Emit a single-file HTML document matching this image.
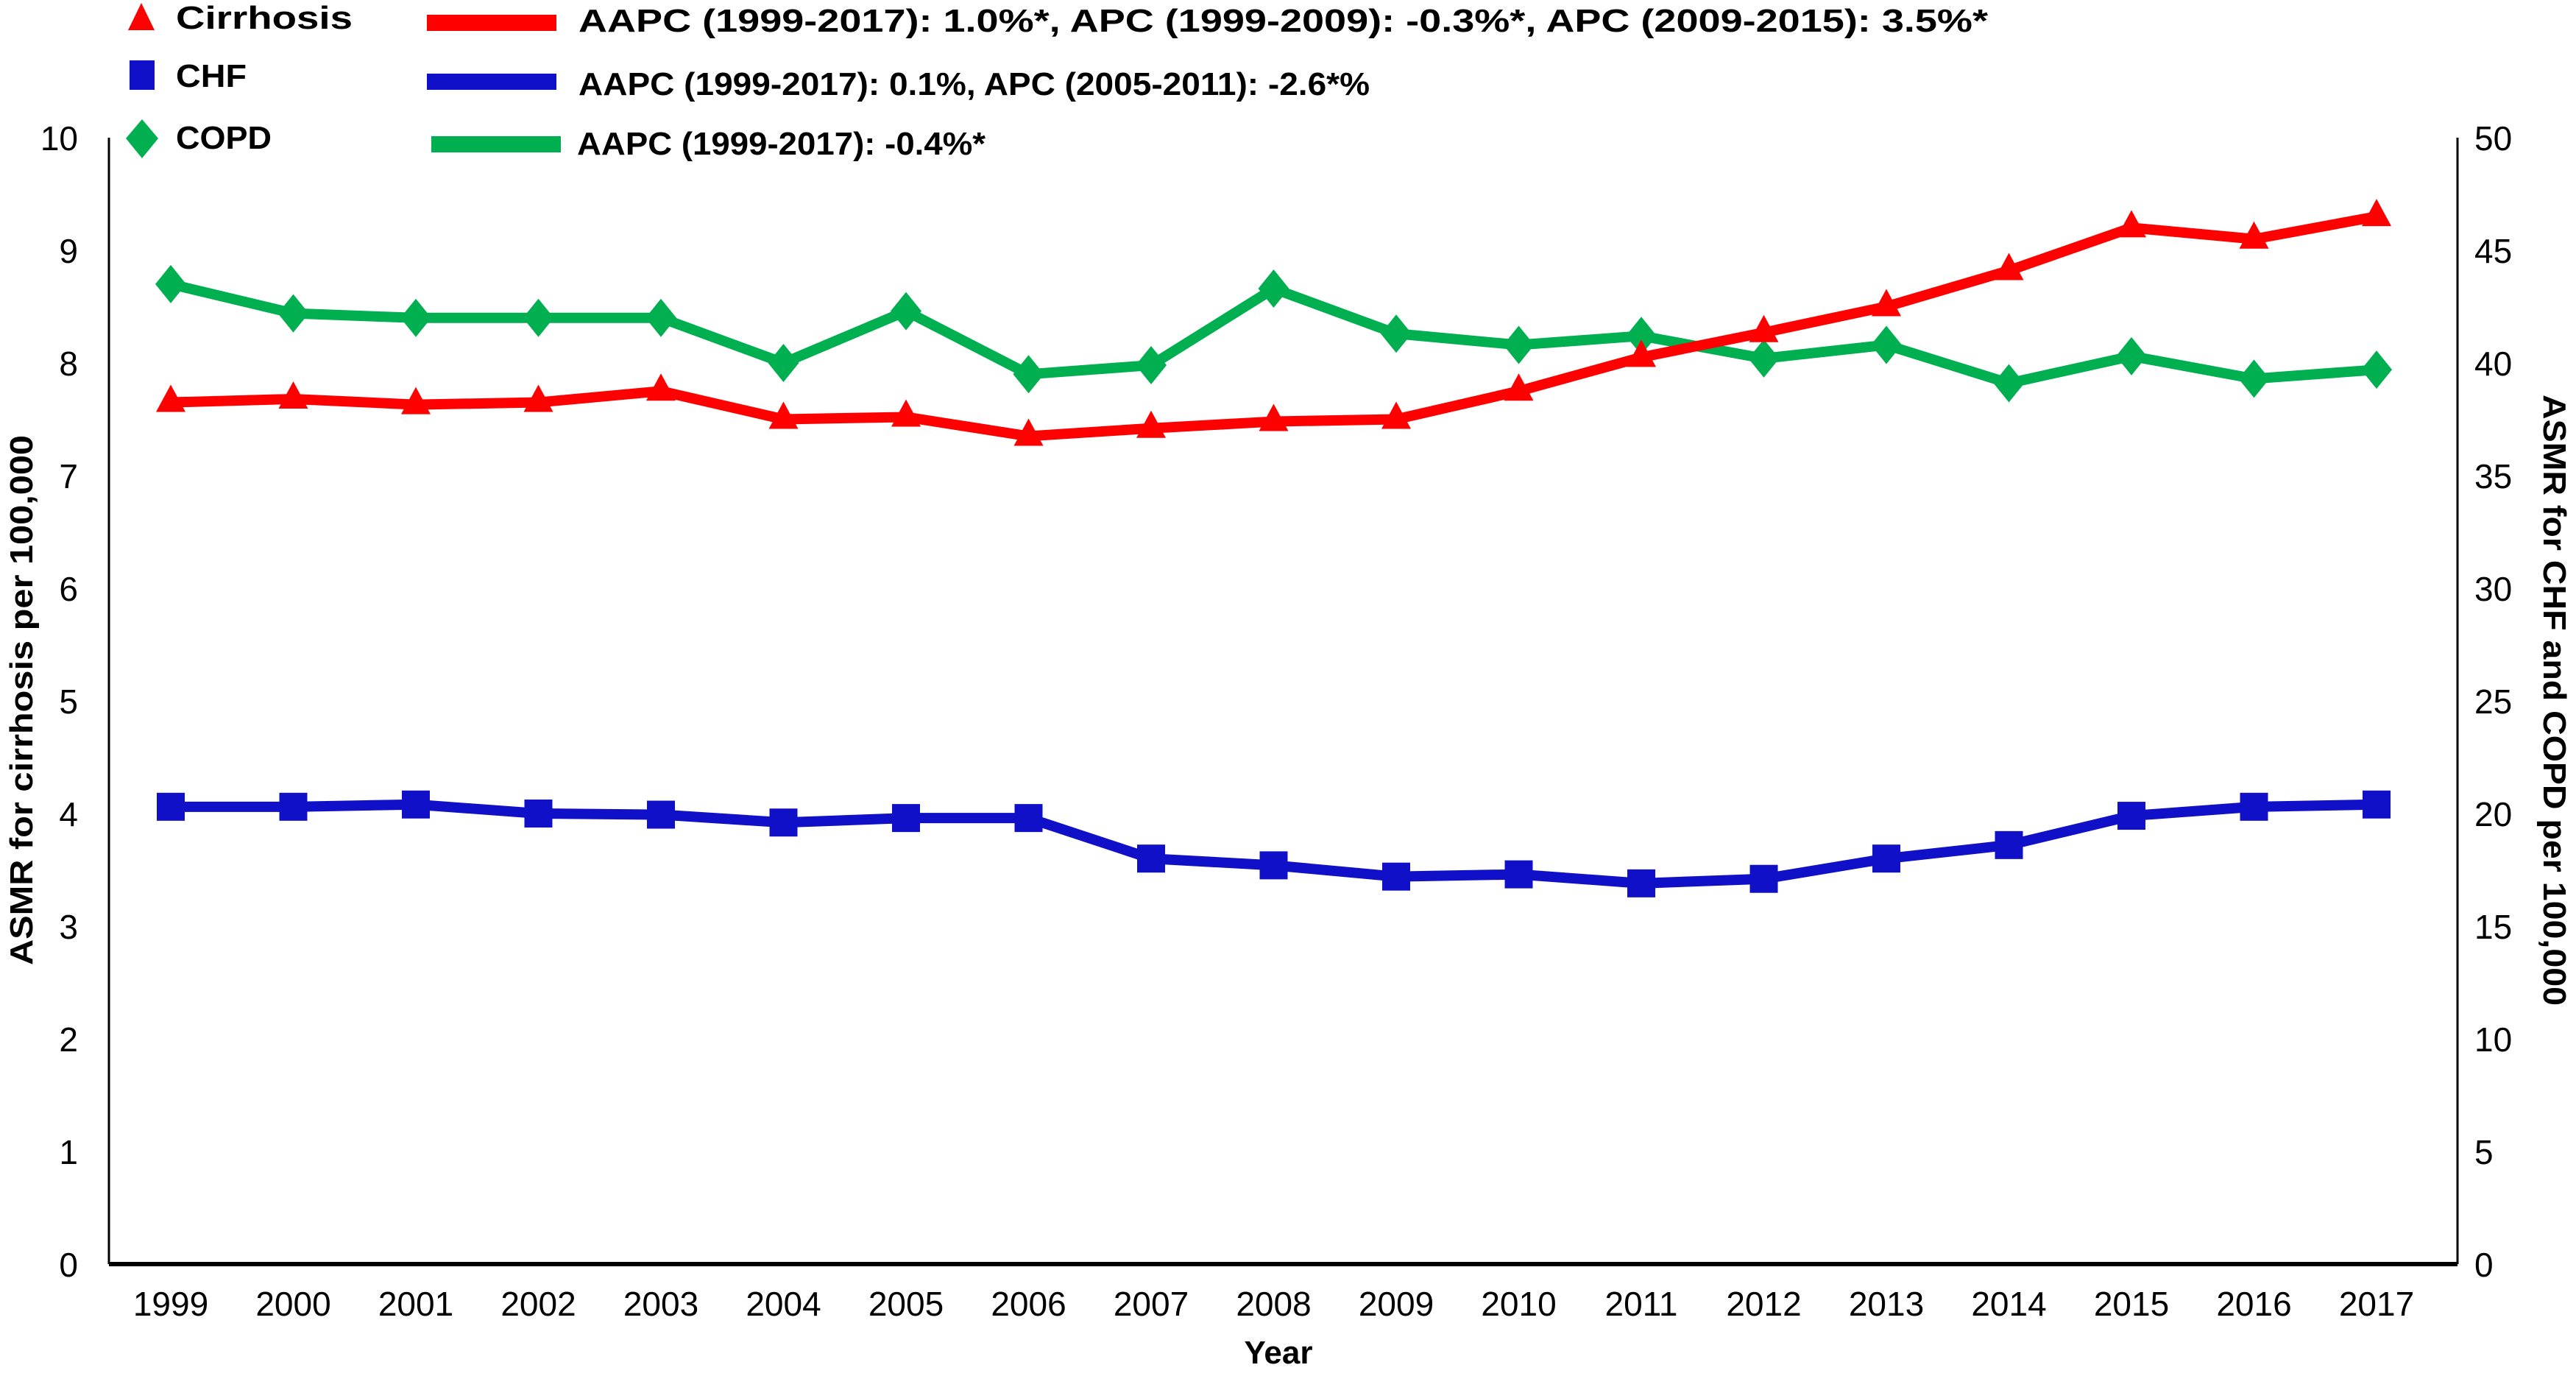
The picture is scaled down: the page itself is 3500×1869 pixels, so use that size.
<!DOCTYPE html>
<html><head><meta charset="utf-8"><style>
html,body{margin:0;padding:0;background:#fff}
svg{display:block;font-family:"Liberation Sans",Arial,sans-serif}
</style></head><body>
<svg id="chart" width="3500" height="1869" viewBox="0 0 3500 1869" xmlns="http://www.w3.org/2000/svg">
<g id="axes"></g>
<g id="series"></g>
<g id="legend">
  <polygon points="192,4 210,41 174,41" fill="#ff0000"/>
  <text x="239" y="39" font-size="44" font-weight="bold" textLength="240" lengthAdjust="spacingAndGlyphs">Cirrhosis</text>
  <rect x="176" y="82" width="34" height="40" fill="#1010c8"/>
  <text x="239" y="118" font-size="44" font-weight="bold" textLength="96" lengthAdjust="spacingAndGlyphs">CHF</text>
  <polygon points="193,162 215,188 193,215 171,188" fill="#00b050"/>
  <text x="239" y="202" font-size="44" font-weight="bold" textLength="130" lengthAdjust="spacingAndGlyphs">COPD</text>
  <rect x="580" y="20" width="176" height="22" fill="#ff0000"/>
  <text x="786" y="43" font-size="44" font-weight="bold" textLength="1915" lengthAdjust="spacingAndGlyphs">AAPC (1999-2017): 1.0%*, APC (1999-2009): -0.3%*, APC (2009-2015): 3.5%*</text>
  <rect x="580" y="100" width="176" height="22" fill="#1010c8"/>
  <text x="786" y="129" font-size="44" font-weight="bold" textLength="1075" lengthAdjust="spacingAndGlyphs">AAPC (1999-2017): 0.1%, APC (2005-2011): -2.6*%</text>
  <rect x="586" y="185" width="176" height="22" fill="#00b050"/>
  <text x="784" y="210" font-size="44" font-weight="bold" textLength="555" lengthAdjust="spacingAndGlyphs">AAPC (1999-2017): -0.4%*</text>
</g>
<text transform="translate(44,951) rotate(-90)" text-anchor="middle" font-size="44" font-weight="bold" textLength="720" lengthAdjust="spacingAndGlyphs">ASMR for cirrhosis per 100,000</text>
<text transform="translate(3456,951) rotate(90)" text-anchor="middle" font-size="44" font-weight="bold" textLength="830" lengthAdjust="spacingAndGlyphs">ASMR for CHF and COPD per 100,000</text>
<text x="1737" y="1852" text-anchor="middle" font-size="44" font-weight="bold">Year</text>
</svg>
<script>
const years = [1999,2000,2001,2002,2003,2004,2005,2006,2007,2008,2009,2010,2011,2012,2013,2014,2015,2016,2017];
const cirrhosis = [7.65,7.68,7.63,7.65,7.75,7.5,7.52,7.35,7.42,7.48,7.5,7.75,8.05,8.27,8.5,8.82,9.2,9.1,9.3];
const chf = [20.3,20.3,20.4,20.0,19.95,19.6,19.8,19.8,18.0,17.7,17.2,17.3,16.9,17.1,18.0,18.6,19.9,20.3,20.4];
const copd = [43.5,42.2,42.0,42.0,42.0,40.0,42.3,39.5,39.9,43.3,41.3,40.8,41.2,40.2,40.8,39.1,40.3,39.3,39.7];
const leftTicks = [0,1,2,3,4,5,6,7,8,9,10];
const rightTicks = [0,5,10,15,20,25,30,35,40,45,50];

const NS = "http://www.w3.org/2000/svg";
const X0 = 148, X1 = 3339, YT = 187, YB = 1717;
const x = i => 232 + i * (3229 - 232) / (years.length - 1);
const yL = v => YB - v / 10 * (YB - YT);
const yR = v => YB - v / 50 * (YB - YT);
function mk(tag, attrs, parent){const e=document.createElementNS(NS,tag);for(const k in attrs)e.setAttribute(k,attrs[k]);parent.appendChild(e);return e;}
const axes = document.getElementById('axes'), series = document.getElementById('series');

let a = mk('line',{x1:X0,y1:YT,x2:X0,y2:YB,stroke:'#000','stroke-width':3},axes);
 
a = mk('line',{x1:X1,y1:YT,x2:X1,y2:YB,stroke:'#000','stroke-width':3},axes);
 
a = mk('line',{x1:X0,y1:YB,x2:X1,y2:YB,stroke:'#000','stroke-width':6},axes);
 

leftTicks.forEach(v=>{const t=mk('text',{x:106,y:yL(v)+17,'text-anchor':'end','font-size':46},axes);t.textContent=v;
 });
rightTicks.forEach(v=>{const t=mk('text',{x:3362,y:yR(v)+17,'text-anchor':'start','font-size':46},axes);t.textContent=v;
 });
years.forEach((yr,i)=>{const t=mk('text',{x:x(i),y:1787,'text-anchor':'middle','font-size':46},axes);t.textContent=yr;
 });

function drawSeries(vals, yf, color, name, shape){
  const pts = vals.map((v,i)=>x(i)+','+yf(v)).join(' ');
  const l = mk('polyline',{points:pts,fill:'none',stroke:color,'stroke-width':14,'stroke-linejoin':'round'},series);
  
  
  vals.forEach((v,i)=>{
    const cx=x(i), cy=yf(v); let m;
    if(shape==='tri') m=mk('polygon',{points:`${cx},${cy-24} ${cx+20},${cy+13} ${cx-20},${cy+13}`,fill:color},series);
    else if(shape==='sq') m=mk('rect',{x:cx-19,y:cy-19,width:38,height:38,fill:color},series);
    else m=mk('polygon',{points:`${cx},${cy-26} ${cx+21},${cy} ${cx},${cy+26} ${cx-21},${cy}`,fill:color},series);
    
    
  });
}
drawSeries(copd, yR, '#00b050', 'copd', 'dia');
drawSeries(cirrhosis, yL, '#ff0000', 'cirrhosis', 'tri');
drawSeries(chf, yR, '#1010c8', 'chf', 'sq');
</script>
</body></html>
